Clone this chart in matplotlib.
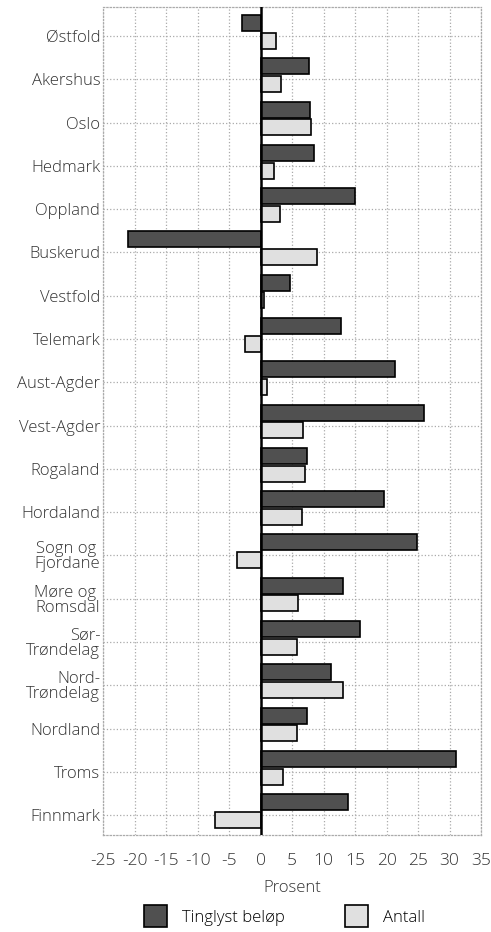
import numpy as np
from matplotlib import pyplot as plt
from matplotlib.patches import Patch

fylker = ['Østfold', 'Akershus', 'Oslo', 'Hedmark', 'Oppland', 'Buskerud', 'Vestfold',
          'Telemark', 'Aust-Agder', 'Vest-Agder', 'Rogaland', 'Hordaland', 'Sogn og \nFjordane',
          'Møre og \nRomsdal', 'Sør-\nTrøndelag', 'Nord-\nTrøndelag', 'Nordland', 'Troms', 'Finnmark']
tinglyst = [-3.0, 7.7, 7.8, 8.5, 15.0, -21.0, 4.6, 12.8, 21.3, 26.0, 7.3, 19.5, 24.8,
            13.0, 15.8, 11.2, 7.3, 31.0, 13.9]
antall = [2.5, 3.2, 8.0, 2.1, 3.0, 9.0, 0.5, -2.5, 1.0, 6.7, 7.0, 6.5, -3.8,
          6.0, 5.8, 13.0, 5.8, 3.5, -7.3]
xticks = [-25, -20, -15, -10, -5, 0, 5, 10, 15, 20, 25, 30, 35]

plt.rcParams['font.family'] = ['Open Sans', 'DejaVu Sans']
plt.rcParams['font.weight'] = 'light'
plt.rcParams['axes.labelweight'] = 'light'
txtcol = '#333333'

fig = plt.figure(figsize=(4.91, 9.32), dpi=100)
ax = fig.add_axes([0.21, 0.104, 0.77, 0.8885])

y = np.arange(len(fylker))
dark = '#505050'
light = '#e0e0e0'
ax.barh(y - 0.3, tinglyst, height=0.37, color=dark, edgecolor='black', linewidth=1.2, zorder=3)
ax.barh(y + 0.11, antall, height=0.37, color=light, edgecolor='black', linewidth=1.2, zorder=3)

ax.axvline(0, color='black', linewidth=1.8, zorder=4)

ax.set_xlim(-25, 35)
ax.set_ylim(18.46, -0.67)
ax.set_xticks(xticks)
ax.set_xticklabels([str(v) for v in xticks], fontsize=12.5, color=txtcol)
ax.set_yticks(y)
ax.set_yticklabels(fylker, fontsize=12, color=txtcol, multialignment='right', linespacing=0.9)
ax.tick_params(length=0, pad=2)
ax.tick_params(axis='x', pad=13)

ax.grid(True, color='#aaaaaa', linestyle=':', linewidth=0.9, zorder=0)
for s in ax.spines.values():
    s.set_color('#aaaaaa')
    s.set_linestyle(':')
    s.set_linewidth(0.9)

ax.set_xlabel('Prosent', fontsize=12, color=txtcol, labelpad=8)

handles = [Patch(facecolor=dark, edgecolor='black', linewidth=1.2, label='Tinglyst beløp'),
           Patch(facecolor=light, edgecolor='black', linewidth=1.2, label='Antall')]
fig.legend(handles=handles, loc='center', bbox_to_anchor=(0.58, 0.017), ncol=2, frameon=False,
           fontsize=12, handlelength=1.4, handleheight=1.6, columnspacing=3.6, handletextpad=0.9)

plt.savefig('out.png', dpi=100)
